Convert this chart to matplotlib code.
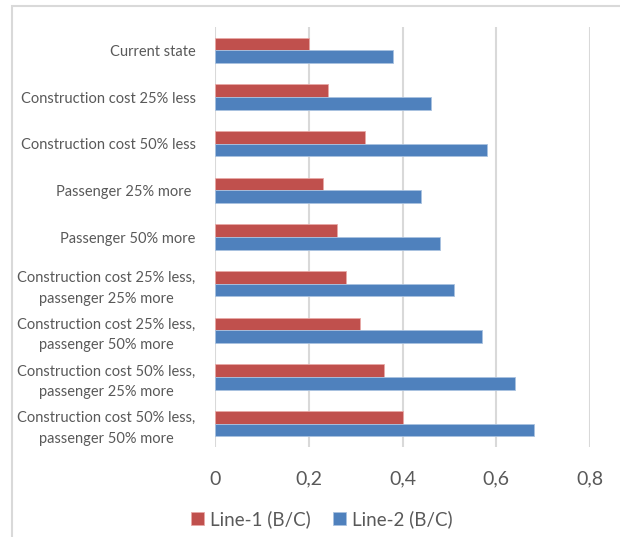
import numpy as np
import matplotlib.pyplot as plt
from matplotlib.patches import Rectangle

# data
categories = [
    "Current state",
    "Construction cost 25% less",
    "Construction cost 50% less",
    "Passenger 25% more ",
    "Passenger 50% more",
    "Construction cost 25% less,\npassenger 25% more",
    "Construction cost 25% less,\npassenger 50% more",
    "Construction cost 50% less,\npassenger 25% more",
    "Construction cost 50% less,\npassenger 50% more",
]
line1 = [0.20, 0.24, 0.32, 0.23, 0.26, 0.28, 0.31, 0.36, 0.40]
line2 = [0.38, 0.46, 0.58, 0.44, 0.48, 0.51, 0.57, 0.64, 0.68]
xticks = [0, 0.2, 0.4, 0.6, 0.8]
xtick_labels = ["0", "0,2", "0,4", "0,6", "0,8"]

plt.rcParams['font.family'] = ['Lato', 'DejaVu Sans']
text_col = '#595959'
red = '#C0504D'
blue = '#4F81BD'

fig = plt.figure(figsize=(6.2, 5.37), dpi=100)
W, H = 620, 537
ax = fig.add_axes([215 / W, 1 - 447 / H, (590 - 215) / W, (447 - 27) / H])

y = np.arange(len(categories))
h = 0.27
ax.barh(y - h / 2, line1, height=h, color=red, edgecolor='#e8a9a7', linewidth=0.6,
        label='Line-1 (B/C)', zorder=3)
ax.barh(y + h / 2, line2, height=h, color=blue, edgecolor='#a9c2e0', linewidth=0.6,
        label='Line-2 (B/C)', zorder=3)

ax.set_xlim(0, 0.8)
ax.set_ylim(len(categories) - 0.5, -0.5)
ax.set_xticks(xticks)
ax.set_xticklabels(xtick_labels, fontsize=14, color=text_col)
ax.set_yticks(y)
ax.set_yticklabels(categories, fontsize=10.5, color=text_col, linespacing=1.6,
                   multialignment='center')
ax.tick_params(axis='both', length=0)
ax.tick_params(axis='y', pad=14)
ax.tick_params(axis='x', pad=17)
ax.grid(axis='x', color='#d9d9d9', linewidth=1.5, zorder=0)
for s in ax.spines.values():
    s.set_visible(False)

# chart border
fig.patches.append(Rectangle((12 / W, -0.01), 1.0, 1 - 5.5 / H + 0.01, transform=fig.transFigure,
                             fill=False, edgecolor='#d9d9d9', linewidth=1.5))

leg = fig.legend(loc='center', bbox_to_anchor=(322 / W, 1 - 519 / H), ncol=2, frameon=False,
                 fontsize=13.5, handlelength=0.7, handleheight=0.7, handletextpad=0.3,
                 columnspacing=1.2)
for t in leg.get_texts():
    t.set_color(text_col)

fig.savefig('out.png', dpi=100)
